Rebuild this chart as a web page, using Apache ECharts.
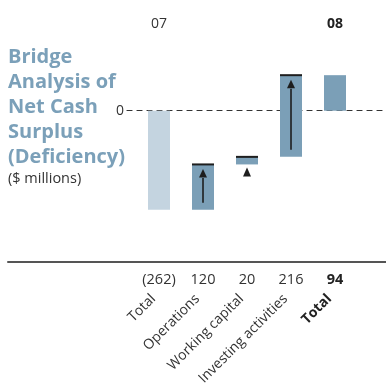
<!DOCTYPE html>
<html>
<head>
<meta charset="utf-8">
<script src="https://cdn.jsdelivr.net/npm/echarts@6/dist/echarts.min.js"></script>
<style>html,body{margin:0;padding:0;background:#fff;}#c{width:386px;height:384px;}</style>
</head>
<body>
<div id="c"></div>
<script>
// ---- data ----
const categories = ['Total', 'Operations', 'Working capital', 'Investing activities', 'Total'];
const values = [-262, 120, 20, 216, 94];
const valueLabels = ['(262)', '120', '20', '216', '94'];
const kinds = ['total', 'change', 'change', 'change', 'total'];
const periodLabels = ['07', '', '', '', '08'];

// build waterfall segments from the values
let running = 0;
const segments = values.map((v, i) => {
  let s, e;
  if (kinds[i] === 'total') { s = 0; e = v; running = v; }
  else { s = running; e = running + v; running = e; }
  return [i, s, e, kinds[i] === 'total' ? 1 : 0];
});

const FONT = '"Open Sans", "Noto Sans", sans-serif';
const DARK = '#7b9fb7';
const LIGHT = '#c4d4e0';
const INK = '#1e1e1e';

const chart = echarts.init(document.getElementById('c'));
chart.setOption({
  animation: false,
  title: {
    left: 8, top: 45, padding: 0,
    text: 'Bridge\nAnalysis of\nNet Cash\nSurplus\n(Deficiency)',
    textStyle: { fontFamily: FONT, fontWeight: 'bold', fontSize: 20, lineHeight: 25, color: '#7ba0b9' },
    subtext: '($ millions)',
    subtextStyle: { fontFamily: FONT, fontSize: 14.5, color: '#333' },
    itemGap: 1
  },
  grid: [
    { left: 137, right: 29, top: 54, bottom: 122, outerBoundsMode: 'none', containLabel: false },
    { left: 127, right: 0, top: 54, bottom: 122, outerBoundsMode: 'none', containLabel: false },
    { left: 8, right: 0, top: 54, bottom: 122, outerBoundsMode: 'none', containLabel: false }
  ],
  xAxis: [
    { // values row
      type: 'category', gridIndex: 0, data: valueLabels, position: 'bottom',
      axisLine: { show: false }, axisTick: { show: false },
      axisLabel: {
        margin: 10, interval: 0, fontFamily: FONT, fontSize: 14.5, color: '#333',
        formatter: (v, i) => i === values.length - 1 ? '{b|' + v + '}' : v,
        rich: { b: { fontFamily: FONT, fontSize: 14.5, fontWeight: 'bold', color: '#222' } }
      }
    },
    { // rotated category names
      type: 'category', gridIndex: 0, data: categories, position: 'bottom',
      axisLine: { show: false }, axisTick: { show: false },
      axisLabel: {
        margin: 29, rotate: 45, interval: 0, padding: [0, 8, 0, 0],
        fontFamily: FONT, fontSize: 14, color: '#333',
        formatter: (v, i) => i === categories.length - 1 ? '{b|' + v + '}' : v,
        rich: { b: { fontFamily: FONT, fontSize: 14, fontWeight: 'bold', color: '#222' } }
      }
    },
    { // period header
      type: 'category', gridIndex: 0, data: periodLabels, position: 'top',
      axisLine: { show: false }, axisTick: { show: false },
      axisLabel: {
        margin: 23, interval: 0, fontFamily: FONT, fontSize: 14, color: '#333',
        formatter: (v, i) => i === periodLabels.length - 1 ? '{b|' + v + '}' : v,
        rich: { b: { fontFamily: FONT, fontSize: 14, fontWeight: 'bold', color: '#222' } }
      }
    },
    { // dashed zero line
      type: 'value', gridIndex: 1, min: 0, max: 1,
      axisLine: { show: true, onZero: true, lineStyle: { color: '#333', width: 1.2, type: [5, 5] } },
      axisTick: { show: false }, axisLabel: { show: false }, splitLine: { show: false }
    },
    { // bottom rule
      type: 'value', gridIndex: 2, min: 0, max: 1, position: 'bottom',
      axisLine: { show: true, onZero: false, lineStyle: { color: '#555', width: 2 } },
      axisTick: { show: false }, axisLabel: { show: false }, splitLine: { show: false }
    }
  ],
  yAxis: [
    { type: 'value', gridIndex: 0, min: -400, max: 150, show: false },
    {
      type: 'value', gridIndex: 1, min: -400, max: 150, interval: 50,
      axisLine: { show: false }, axisTick: { show: false }, splitLine: { show: false },
      axisLabel: { margin: 3, fontFamily: FONT, fontSize: 14, color: '#333', formatter: v => v === 0 ? '0' : '' }
    },
    { type: 'value', gridIndex: 2, min: 0, max: 1, show: false }
  ],
  series: [{
    type: 'custom',
    xAxisIndex: 0, yAxisIndex: 0, z: 5,
    encode: { x: 0, y: [1, 2] },
    data: segments,
    renderItem: function (params, api) {
      const i = api.value(0), s = api.value(1), e = api.value(2), isTotal = api.value(3) === 1;
      const p0 = api.coord([i, s]);
      const p1 = api.coord([i, e]);
      const w = api.size([1, 0])[0] * 0.5;
      const x = p0[0] - w / 2;
      const yTop = Math.min(p0[1], p1[1]);
      const h = Math.abs(p0[1] - p1[1]);
      const children = [{
        type: 'rect', shape: { x: x, y: yTop, width: w, height: h },
        style: { fill: (isTotal && i === 0) ? LIGHT : DARK }
      }];
      if (!isTotal) {
        const up = p1[1] < p0[1];
        const d = up ? -1 : 1; // pixel direction of travel
        children.push({
          type: 'line', shape: { x1: x, y1: p1[1], x2: x + w, y2: p1[1] },
          style: { stroke: INK, lineWidth: 2 }
        });
        const cx = p0[0];
        if (h > 20) {
          const tip = p1[1] - d * 4.5;
          const base = tip - d * 9;
          children.push({
            type: 'line', shape: { x1: cx, y1: p0[1] + d * 7, x2: cx, y2: base },
            style: { stroke: INK, lineWidth: 1.6 }
          });
          children.push({
            type: 'polygon', shape: { points: [[cx, tip], [cx - 4, base + d * 0.5], [cx + 4, base + d * 0.5]] },
            style: { fill: INK }
          });
        } else {
          const tip = Math.max(p0[1], p1[1]) + 3;
          children.push({
            type: 'polygon', shape: { points: [[cx, tip], [cx - 4, tip + 9], [cx + 4, tip + 9]] },
            style: { fill: INK }
          });
        }
      }
      return { type: 'group', children: children };
    }
  }]
});
</script>
</body>
</html>
